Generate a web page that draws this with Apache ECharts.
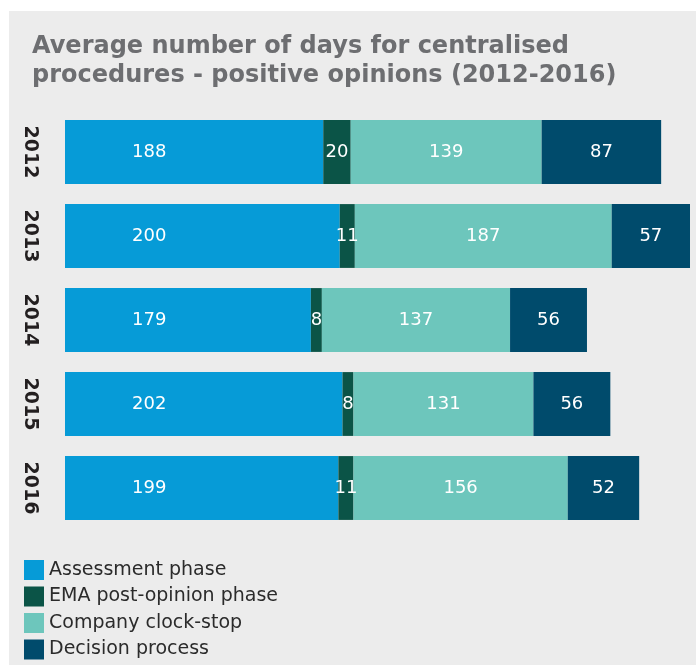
<!DOCTYPE html>
<html>
<head>
<meta charset="utf-8">
<script src="https://cdn.jsdelivr.net/npm/echarts@6/dist/echarts.min.js"></script>
<style>
  html, body { margin: 0; padding: 0; background: #fff; }
  #chart { position: absolute; left: 9px; top: 11px; width: 687px; height: 654px; background: #ececec; }
</style>
</head>
<body>
<div id="chart"></div>
<script>
var years = ['2012', '2013', '2014', '2015', '2016'];
var assessment = [188, 200, 179, 202, 199];
var emaPost = [20, 11, 8, 8, 11];
var clockStop = [139, 187, 137, 131, 156];
var decision = [87, 57, 56, 56, 52];

var seriesNames = ['Assessment phase', 'EMA post-opinion phase', 'Company clock-stop', 'Decision process'];
var seriesColors = ['#069bd7', '#0b5447', '#6dc6bc', '#004b6c'];
var seriesData = [assessment, emaPost, clockStop, decision];

var chart = echarts.init(document.getElementById('chart'));

var series = seriesData.map(function (d, i) {
  var lbl = {
    show: true,
    position: 'inside',
    color: '#fff',
    fontFamily: 'DejaVu Sans',
    fontSize: 18
  };
  // first block labels sit left of centre in the original
  if (i === 0) {
    lbl.position = 'insideLeft';
    lbl.distance = 67;
  }
  return {
    name: seriesNames[i],
    type: 'bar',
    stack: 'days',
    data: d,
    barCategoryGap: '24%',
    itemStyle: { color: seriesColors[i] },
    label: lbl
  };
});

var option = {
  animation: false,
  title: {
    text: 'Average number of days for centralised\nprocedures - positive opinions (2012-2016)',
    left: 18,
    top: 16,
    textStyle: {
      fontFamily: 'DejaVu Sans',
      fontWeight: 'bold',
      fontSize: 24,
      lineHeight: 29,
      color: '#6d6e71'
    }
  },
  legend: {
    orient: 'vertical',
    left: 15,
    top: 549,
    padding: 0,
    icon: 'rect',
    itemWidth: 20,
    itemHeight: 20,
    itemGap: 6.5,
    selectedMode: false,
    textStyle: {
      fontFamily: 'DejaVu Sans',
      fontSize: 19,
      lineHeight: 20,
      color: '#2b2b2b'
    },
    data: seriesNames
  },
  grid: {
    left: 56,
    top: 99,
    height: 420,
    right: 6
  },
  xAxis: {
    type: 'value',
    min: 0,
    max: 455,
    show: false
  },
  yAxis: {
    type: 'category',
    inverse: true,
    data: years,
    axisLine: { show: false },
    axisTick: { show: false },
    axisLabel: {
      rotate: -90,
      margin: 26,
      fontFamily: 'DejaVu Sans',
      fontWeight: 'bold',
      fontSize: 19,
      color: '#231f20'
    }
  },
  series: series
};

chart.setOption(option);
</script>
</body>
</html>
